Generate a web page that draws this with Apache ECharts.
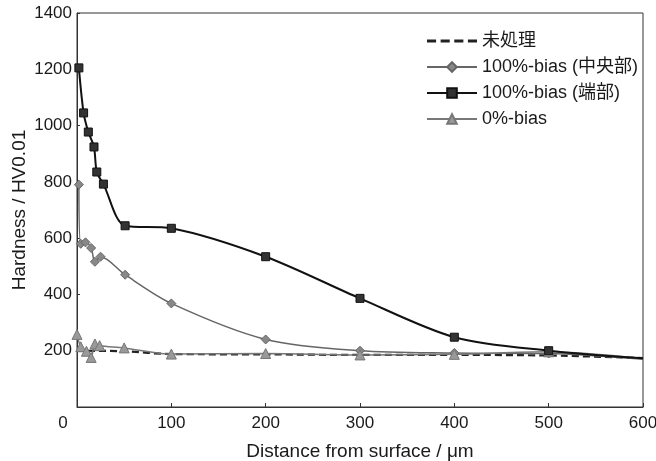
<!DOCTYPE html>
<html>
<head>
<meta charset="utf-8">
<script src="https://cdn.jsdelivr.net/npm/echarts@6/dist/echarts.min.js"></script>
<style>html,body{margin:0;padding:0;background:#fff}#c{width:656px;height:461px}</style>
</head>
<body>
<div id="c"></div>
<script>
// Data
const seriesNames = ['未処理', '100%-bias (中央部)', '100%-bias (端部)', '0%-bias'];
const xTicks = [0, 100, 200, 300, 400, 500, 600];
const yTicks = [0, 200, 400, 600, 800, 1000, 1200, 1400];

const untreatedX = [0, 50, 100, 200, 300, 400, 500, 600];
const untreatedY = [200, 198, 188, 187, 185, 185, 183, 174];

const centerX = [2, 4, 9, 15, 19, 25, 51, 100, 200, 300, 400, 500, 600];
const centerY = [790, 580, 585, 565, 516, 534, 470, 368, 240, 200, 192, 190, 170];

const edgeX = [2, 7, 12, 18, 21, 28, 51, 100, 200, 300, 400, 500, 600];
const edgeY = [1205, 1045, 977, 924, 835, 792, 644, 635, 534, 386, 248, 200, 173];

const zeroX = [0, 4, 10, 15, 19, 24, 50, 100, 200, 300, 400, 500, 600];
const zeroY = [258, 214, 198, 176, 224, 218, 210, 188, 190, 185, 187, 196, 172];

function pts(xs, ys, lastNoMarker) {
  return xs.map((x, i) => {
    if (lastNoMarker && i === xs.length - 1) return { value: [x, ys[i]], symbol: 'none' };
    return [x, ys[i]];
  });
}

const FONT = "'Liberation Sans', Arial, 'Noto Sans CJK JP', sans-serif";
const TXT = '#1a1a1a';
const dashIcon = 'path://M0,0h8v2.5h-8z M12,0h8v2.5h-8z M24,0h8v2.5h-8z M36,0h8v2.5h-8z';
const chart = echarts.init(document.getElementById('c'), null, { renderer: 'canvas' });
chart.setOption({
  animation: false,
  backgroundColor: '#fff',
  textStyle: { fontFamily: FONT },
  grid: {
    left: 77, right: 13, top: 13, bottom: 54, containLabel: false, outerBoundsMode: 'none',
    show: true, borderColor: '#333', borderWidth: 1
  },
  legend: {
    orient: 'vertical', left: 421, top: 27, itemWidth: 50, itemHeight: 12, itemGap: 8,
    symbolKeepAspect: true,
    textStyle: { fontSize: 18, color: TXT, fontFamily: FONT },
    data: [
      { name: seriesNames[0], icon: dashIcon, itemStyle: { color: '#222' } },
      seriesNames[1], seriesNames[2], seriesNames[3]
    ]
  },
  xAxis: {
    type: 'value', min: 0, max: 600, interval: 100,
    axisLine: { lineStyle: { color: '#333' } },
    axisTick: { inside: true, length: 4, lineStyle: { color: '#333' } },
    splitLine: { show: false },
    axisLabel: {
      fontSize: 17, color: TXT, margin: 8,
      formatter: v => v === 0 ? '{z|0}' : String(v),
      rich: { z: { fontSize: 17, color: TXT, padding: [0, 28, 0, 0] } }
    },
    name: 'Distance from surface / μm', nameLocation: 'middle', nameGap: 35,
    nameMoveOverlap: false,
    nameTextStyle: { fontSize: 19, color: TXT }
  },
  yAxis: {
    type: 'value', min: 0, max: 1400, interval: 200,
    axisLine: { show: true, lineStyle: { color: '#333' } },
    axisTick: { show: true, inside: true, length: 3, lineStyle: { color: '#333' } },
    splitLine: { show: false },
    axisLabel: { fontSize: 17, color: TXT, margin: 5, formatter: v => v === 0 ? '' : String(v) },
    name: 'Hardness / HV0.01', nameLocation: 'middle', nameGap: 48,
    nameMoveOverlap: false,
    nameTextStyle: { fontSize: 19, color: TXT }
  },
  series: [
    {
      name: seriesNames[0], type: 'line', smooth: 0.3, symbol: 'none',
      lineStyle: { color: '#222', width: 2.2, type: [7, 4] },
      itemStyle: { color: '#222' },
      data: pts(untreatedX, untreatedY, false), z: 1
    },
    {
      name: seriesNames[1], type: 'line', smooth: 0.3, symbol: 'diamond', symbolSize: 9,
      lineStyle: { color: '#666', width: 1.5 },
      itemStyle: { color: '#888', borderColor: '#666', borderWidth: 1 },
      data: pts(centerX, centerY, true), z: 2
    },
    {
      name: seriesNames[2], type: 'line', smooth: 0.3, symbol: 'rect', symbolSize: 8,
      lineStyle: { color: '#111', width: 2 },
      itemStyle: { color: '#333', borderColor: '#111', borderWidth: 1 },
      data: pts(edgeX, edgeY, true), z: 3
    },
    {
      name: seriesNames[3], type: 'line', smooth: 0.3, symbol: 'triangle', symbolSize: 10,
      lineStyle: { color: '#777', width: 1.5 },
      itemStyle: { color: '#999', borderColor: '#777', borderWidth: 1 },
      data: pts(zeroX, zeroY, true), z: 2
    }
  ]
});
</script>
</body>
</html>
